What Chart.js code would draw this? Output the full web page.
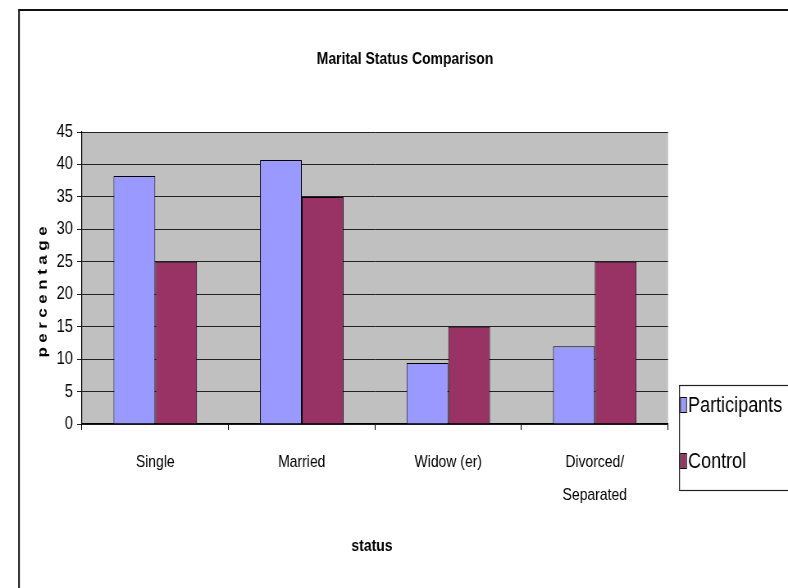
<!DOCTYPE html>
<html>
<head>
<meta charset="utf-8">
<title>Marital Status Comparison</title>
<script src="https://cdn.jsdelivr.net/npm/chart.js@4.4.0/dist/chart.umd.min.js"></script>
<style>
    html, body { margin: 0; padding: 0; background: #ffffff; overflow: hidden; }
    #wrap { width: 788px; height: 588px; overflow: hidden; }
    /* squeeze the canvas sideways so the text looks like Arial Narrow */
    #maritalChart { transform: scaleX(0.82); transform-origin: 0 0; }
</style>
</head>
<body>
<div id="wrap"><canvas id="maritalChart" width="961" height="588"></canvas></div>
<script>
// Chart data
const categories = ['Single', 'Married', 'Widow (er)', ['Divorced/', 'Separated']];
const participants = [38.2, 40.7, 9.4, 12];
const control = [25, 35, 15, 25];
const seriesNames = ['Participants', 'Control'];
const yMin = 0;
const yMax = 45;
const yStep = 5;

// Texts
const chartTitle = 'Marital Status Comparison';
const xTitle = 'status';
const yTitle = 'percentage';

const FONT = "'Liberation Sans', Arial, sans-serif";
const colors = ['#9999ff', '#993366'];

// horizontal squeeze, screen x -> canvas x
const SX = 0.82;
const px = x => x / SX;

// Frame, plot background, titles and the boxed legend
const excelFrame = {
    id: 'excelFrame',
    beforeDraw(chart) {
        const { ctx, chartArea: a } = chart;
        ctx.save();
        ctx.fillStyle = '#ffffff';
        ctx.fillRect(0, 0, chart.width, chart.height);

        // outer border (top + left only, the rest runs off the picture)
        ctx.strokeStyle = '#111111';
        ctx.lineWidth = 2;
        ctx.beginPath();
        ctx.moveTo(px(19), 600);
        ctx.lineTo(px(19), 10);
        ctx.lineTo(px(820), 10);
        ctx.stroke();

        // grey plot area
        ctx.fillStyle = '#c0c0c0';
        ctx.fillRect(a.left, a.top, a.width, a.height);
        ctx.restore();
    },
    afterDraw(chart) {
        const ctx = chart.ctx;
        ctx.save();
        ctx.fillStyle = '#000000';
        ctx.textAlign = 'center';
        ctx.textBaseline = 'middle';

        // chart title
        ctx.font = 'bold 17px ' + FONT;
        ctx.fillText(chartTitle, px(405), 59);

        // x axis title
        ctx.font = 'bold 17px ' + FONT;
        ctx.fillText(xTitle, px(372), 546);

        // y axis title, letter spaced
        ctx.font = 'bold 17px ' + FONT;
        const gap = 4.5;
        const chars = yTitle.split('');
        const widths = chars.map(c => ctx.measureText(c).width);
        const total = widths.reduce((s, w) => s + w, 0) + gap * (chars.length - 1);
        ctx.translate(px(43), 292);
        ctx.rotate(-Math.PI / 2);
        ctx.textAlign = 'left';
        let x = -total / 2;
        chars.forEach((c, i) => {
            ctx.fillText(c, x, 0);
            x += widths[i] + gap;
        });
        ctx.setTransform(1, 0, 0, 1, 0, 0);

        // legend box
        ctx.strokeStyle = '#222222';
        ctx.lineWidth = 1.2;
        ctx.strokeRect(px(679.5), 385.5, px(140), 105);

        const rows = [405, 461];
        ctx.font = '22px ' + FONT;
        ctx.textAlign = 'left';
        chart.data.datasets.forEach((ds, i) => {
            const cy = rows[i];
            ctx.fillStyle = ds.backgroundColor;
            ctx.fillRect(px(681), cy - 7, px(5), 14);
            ctx.strokeStyle = '#000000';
            ctx.lineWidth = 1;
            ctx.strokeRect(px(680.5), cy - 7.5, px(6), 15);
            ctx.fillStyle = '#000000';
            ctx.fillText(ds.label, px(688), cy + 1);
        });
        ctx.restore();
    }
};

document.addEventListener('DOMContentLoaded', () => {
    const ctx = document.getElementById('maritalChart').getContext('2d');

    new Chart(ctx, {
        type: 'bar',
        data: {
            labels: categories,
            datasets: [
                {
                    label: seriesNames[0],
                    data: participants,
                    backgroundColor: colors[0],
                    borderColor: '#000000',
                    borderWidth: 1
                },
                {
                    label: seriesNames[1],
                    data: control,
                    backgroundColor: colors[1],
                    borderColor: '#000000',
                    borderWidth: 1
                }
            ]
        },
        options: {
            responsive: false,
            animation: false,
            devicePixelRatio: 1,
            layout: {
                padding: { top: 132, right: px(120), left: 0, bottom: 0 }
            },
            datasets: {
                bar: {
                    categoryPercentage: 0.57,
                    barPercentage: 1.0
                }
            },
            plugins: {
                legend: { display: false },
                title: { display: false },
                tooltip: { enabled: false }
            },
            scales: {
                x: {
                    offset: true,
                    afterFit: scale => { scale.height = 164; },
                    grid: {
                        display: true,
                        offset: true,
                        drawOnChartArea: false,
                        drawTicks: true,
                        tickLength: 6,
                        color: '#000000'
                    },
                    border: { display: true, color: '#000000', width: 1.2 },
                    ticks: {
                        color: '#000000',
                        padding: 16,
                        maxRotation: 0,
                        font: { family: FONT, size: 17, lineHeight: '33px' }
                    }
                },
                y: {
                    min: yMin,
                    max: yMax,
                    afterFit: scale => { scale.width = px(82); },
                    grid: {
                        color: '#222222',
                        lineWidth: 1,
                        drawTicks: true,
                        tickLength: 6
                    },
                    border: { display: true, color: '#000000', width: 1.2 },
                    ticks: {
                        stepSize: yStep,
                        color: '#000000',
                        padding: 5,
                        font: { family: FONT, size: 18 }
                    }
                }
            }
        },
        plugins: [excelFrame]
    });
});
</script>
</body>
</html>
